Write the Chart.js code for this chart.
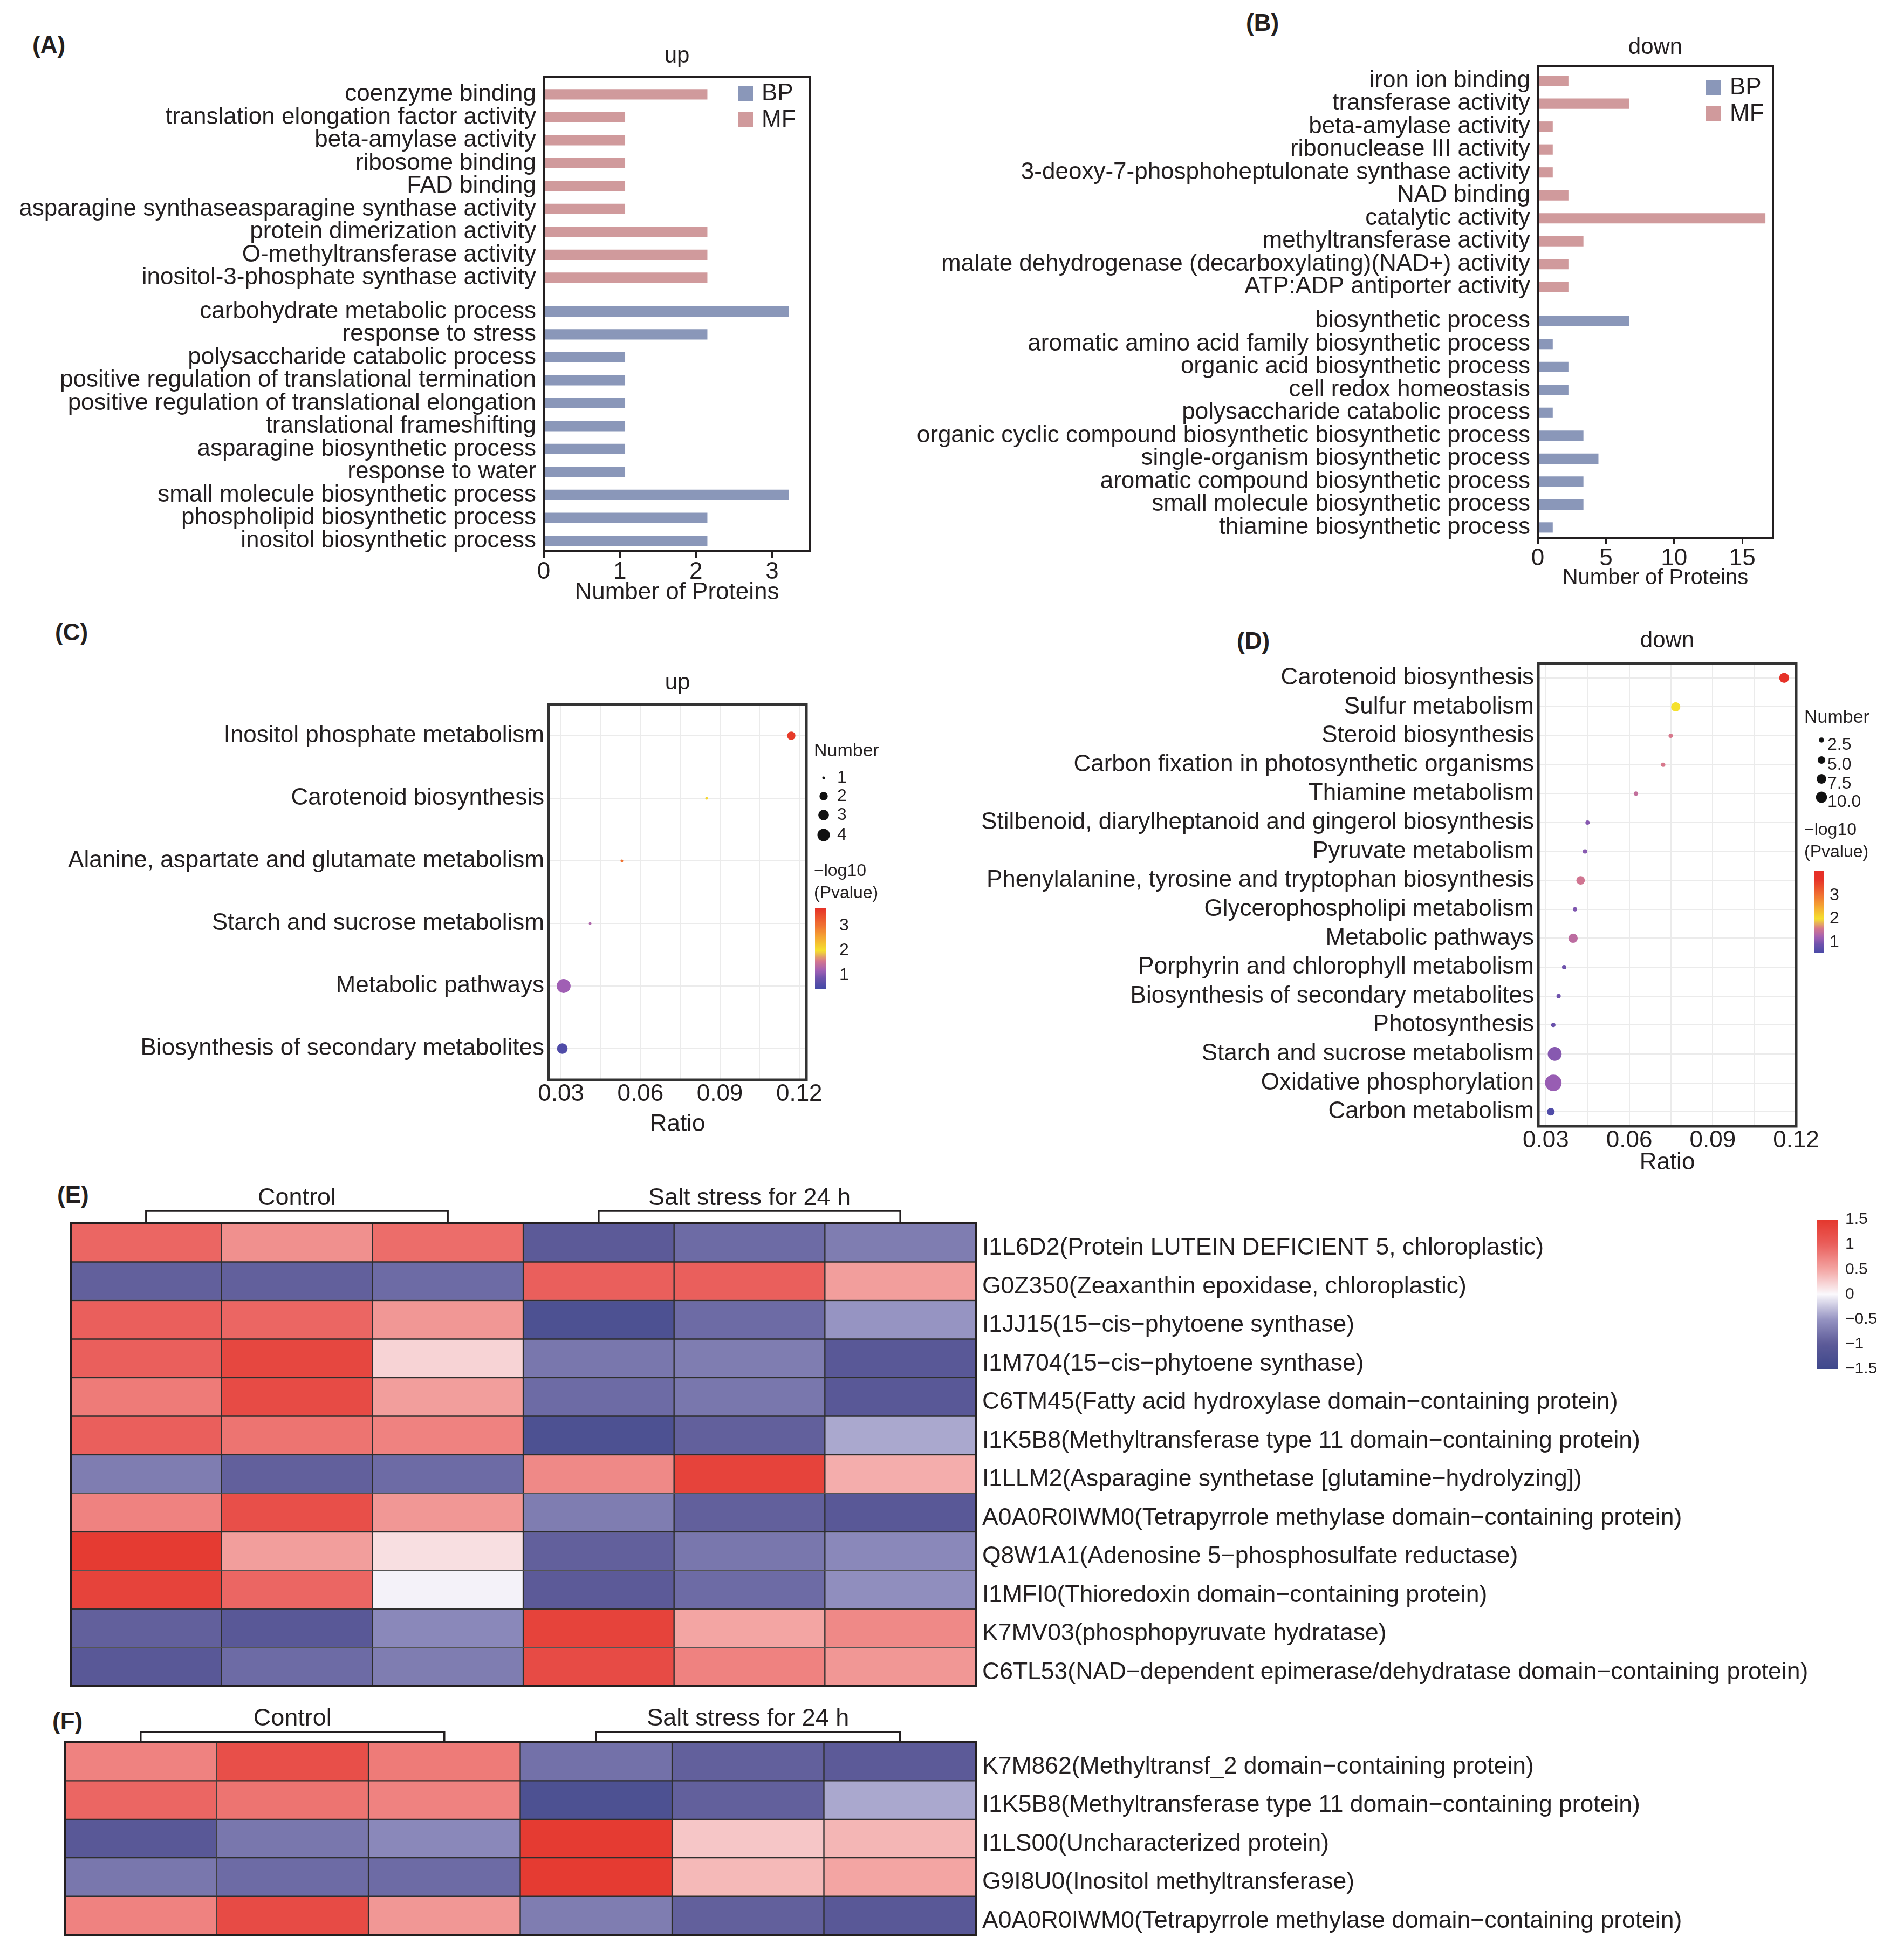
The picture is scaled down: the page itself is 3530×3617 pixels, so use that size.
<!DOCTYPE html>
<html>
<head>
<meta charset="utf-8">
<title>GO / KEGG / heatmap</title>
<script src="https://cdn.jsdelivr.net/npm/chart.js@4.4.1/dist/chart.umd.min.js"></script>
<style>
  body { margin: 0; background: #fff; width: 3530px; height: 3617px; position: relative; overflow: hidden;
         font-family: "Liberation Sans", Arial, Helvetica, sans-serif; color: #231f20; }
  .box { position: absolute; }
  .tag { position: absolute; font-weight: bold; font-size: 44px; line-height: 44px; }
</style>
</head>
<body>
<div class="tag" style="left:60px;top:61px">(A)</div>
<div class="tag" style="left:2310px;top:20px">(B)</div>
<div class="tag" style="left:102px;top:1150px">(C)</div>
<div class="tag" style="left:2293px;top:1166px">(D)</div>
<div class="tag" style="left:106px;top:2193px">(E)</div>
<div class="tag" style="left:97px;top:3169px">(F)</div>

<div class="box" style="left:0;top:0;width:1540px;height:1140px"><canvas id="goUp"></canvas></div>
<div class="box" style="left:1700px;top:0;width:1830px;height:1120px"><canvas id="goDown"></canvas></div>
<div class="box" style="left:0;top:1150px;width:1700px;height:1000px"><canvas id="keggUp"></canvas></div>
<div class="box" style="left:1700px;top:1150px;width:1830px;height:1050px"><canvas id="keggDown"></canvas></div>
<div class="box" style="left:0;top:2180px;width:3530px;height:1000px"><canvas id="heatE"></canvas></div>
<div class="box" style="left:0;top:3150px;width:3530px;height:480px"><canvas id="heatF"></canvas></div>

<script>
// ---- GO terms, up-regulated (A) ----
const mfUpTerms = ['coenzyme binding', 'translation elongation factor activity', 'beta-amylase activity',
  'ribosome binding', 'FAD binding', 'asparagine synthaseasparagine synthase activity',
  'protein dimerization activity', 'O-methyltransferase activity', 'inositol-3-phosphate synthase activity'];
const mfUpCounts = [2.15, 1.07, 1.07, 1.07, 1.07, 1.07, 2.15, 2.15, 2.15];
const bpUpTerms = ['carbohydrate metabolic process', 'response to stress', 'polysaccharide catabolic process',
  'positive regulation of translational termination', 'positive regulation of translational elongation',
  'translational frameshifting', 'asparagine biosynthetic process', 'response to water',
  'small molecule biosynthetic process', 'phospholipid biosynthetic process', 'inositol biosynthetic process'];
const bpUpCounts = [3.22, 2.15, 1.07, 1.07, 1.07, 1.07, 1.07, 1.07, 3.22, 2.15, 2.15];
const upTicks = [0, 1, 2, 3];

// ---- GO terms, down-regulated (B) ----
const mfDownTerms = ['iron ion binding', 'transferase activity', 'beta-amylase activity', 'ribonuclease III activity',
  '3-deoxy-7-phosphoheptulonate synthase activity', 'NAD binding', 'catalytic activity',
  'methyltransferase activity', 'malate dehydrogenase (decarboxylating)(NAD+) activity', 'ATP:ADP antiporter activity'];
const mfDownCounts = [2.25, 6.7, 1.1, 1.1, 1.1, 2.25, 16.7, 3.35, 2.25, 2.25];
const bpDownTerms = ['biosynthetic process', 'aromatic amino acid family biosynthetic process',
  'organic acid biosynthetic process', 'cell redox homeostasis', 'polysaccharide catabolic process',
  'organic cyclic compound biosynthetic biosynthetic process', 'single-organism biosynthetic process',
  'aromatic compound biosynthetic process', 'small molecule biosynthetic process', 'thiamine biosynthetic process'];
const bpDownCounts = [6.7, 1.1, 2.25, 2.25, 1.1, 3.35, 4.45, 3.35, 3.35, 1.1];
const downTicks = [0, 5, 10, 15];

// ---- KEGG, up (C) ----
const keggUpTerms = ['Inositol phosphate metabolism', 'Carotenoid biosynthesis',
  'Alanine, aspartate and glutamate metabolism', 'Starch and sucrose metabolism',
  'Metabolic pathways', 'Biosynthesis of secondary metabolites'];
const keggUpRatio = [0.117, 0.085, 0.053, 0.041, 0.031, 0.0305];
const keggUpNumber = [2, 1, 1, 1, 5, 3];
const keggUpLogP = [3.6, 2.1, 3.0, 1.3, 1.2, 0.6];

// ---- KEGG, down (D) ----
const keggDownTerms = ['Carotenoid biosynthesis', 'Sulfur metabolism', 'Steroid biosynthesis',
  'Carbon fixation in photosynthetic organisms', 'Thiamine metabolism',
  'Stilbenoid, diarylheptanoid and gingerol biosynthesis', 'Pyruvate metabolism',
  'Phenylalanine, tyrosine and tryptophan biosynthesis', 'Glycerophospholipi metabolism', 'Metabolic pathways',
  'Porphyrin and chlorophyll metabolism', 'Biosynthesis of secondary metabolites', 'Photosynthesis',
  'Starch and sucrose metabolism', 'Oxidative phosphorylation', 'Carbon metabolism'];
const keggDownRatio = [0.1157, 0.0767, 0.0749, 0.0722, 0.0624, 0.045, 0.0441, 0.0425, 0.0405, 0.0398,
  0.0366, 0.0346, 0.0327, 0.0332, 0.0327, 0.0318];
const keggDownNumber = [8, 7, 2, 2, 2, 2, 2, 6, 2, 7, 2, 2, 2, 15, 21, 5];
const keggDownLogP = [3.7, 2.0, 1.6, 1.6, 1.45, 1.05, 1.05, 1.55, 1.0, 1.4, 0.9, 0.9, 0.85, 1.05, 1.15, 0.6];

const ratioGrid = [0.03, 0.045, 0.06, 0.075, 0.09, 0.105, 0.12];
const ratioTicks = [0.03, 0.06, 0.09, 0.12];
const upSizeBreaks = [1, 2, 3, 4];
const downSizeBreaks = [2.5, 5, 7.5, 10];
const pBreaks = [3, 2, 1];

// ---- heatmaps (E, F) ----
const samples = ['Control-1', 'Control-2', 'Control-3', 'Salt-1', 'Salt-2', 'Salt-3'];
const sampleGroup = [0, 0, 0, 1, 1, 1];
const groups = ['Control', 'Salt stress for 24 h'];
const heatRowsE = ['I1L6D2(Protein LUTEIN DEFICIENT 5, chloroplastic)', 'G0Z350(Zeaxanthin epoxidase, chloroplastic)',
  'I1JJ15(15\u2212cis\u2212phytoene synthase)', 'I1M704(15\u2212cis\u2212phytoene synthase)',
  'C6TM45(Fatty acid hydroxylase domain\u2212containing protein)',
  'I1K5B8(Methyltransferase type 11 domain\u2212containing protein)',
  'I1LLM2(Asparagine synthetase [glutamine\u2212hydrolyzing])',
  'A0A0R0IWM0(Tetrapyrrole methylase domain\u2212containing protein)',
  'Q8W1A1(Adenosine 5\u2212phosphosulfate reductase)', 'I1MFI0(Thioredoxin domain\u2212containing protein)',
  'K7MV03(phosphopyruvate hydratase)',
  'C6TL53(NAD\u2212dependent epimerase/dehydratase domain\u2212containing protein)'];
const heatZE = [
  [0.95, 0.65, 0.9, -1.0, -0.85, -0.7],
  [-0.95, -0.95, -0.85, 1.0, 1.0, 0.55],
  [1.0, 0.95, 0.6, -1.25, -0.85, -0.5],
  [1.0, 1.3, 0.22, -0.75, -0.7, -1.05],
  [0.8, 1.25, 0.55, -0.85, -0.75, -1.05],
  [1.0, 0.85, 0.75, -1.25, -0.95, -0.4],
  [-0.7, -0.95, -0.85, 0.7, 1.35, 0.45],
  [0.75, 1.2, 0.6, -0.7, -0.95, -1.05],
  [1.45, 0.55, 0.15, -0.95, -0.75, -0.6],
  [1.35, 0.95, -0.03, -1.0, -0.85, -0.55],
  [-0.95, -1.05, -0.6, 1.35, 0.5, 0.7],
  [-1.05, -0.85, -0.7, 1.25, 0.75, 0.6]];
const heatRowsF = ['K7M862(Methyltransf_2 domain\u2212containing protein)',
  'I1K5B8(Methyltransferase type 11 domain\u2212containing protein)', 'I1LS00(Uncharacterized protein)',
  'G9I8U0(Inositol methyltransferase)', 'A0A0R0IWM0(Tetrapyrrole methylase domain\u2212containing protein)'];
const heatZF = [
  [0.75, 1.2, 0.8, -0.8, -0.95, -1.0],
  [0.95, 0.85, 0.75, -1.25, -0.95, -0.4],
  [-1.05, -0.75, -0.6, 1.45, 0.3, 0.4],
  [-0.75, -0.85, -0.85, 1.45, 0.38, 0.5],
  [0.75, 1.25, 0.6, -0.7, -0.95, -1.05]];
const zBreaks = [1.5, 1, 0.5, 0, -0.5, -1, -1.5];
const CELL = 1; // every heatmap cell is one sample wide

// ---- styling ----
const INK = '#231f20';
const FONT = '"Liberation Sans", Arial, Helvetica, sans-serif';
const BP_COLOR = '#8a97b9';
const MF_COLOR = '#d09a9c';
const GRID = '#ebebeb';
const Z_STOPS = [[-1.5, [62, 72, 140]], [-1, [92, 90, 152]], [-0.5, [150, 148, 194]], [0, [250, 248, 252]],
  [0.5, [243, 165, 163]], [1, [234, 95, 92]], [1.5, [228, 55, 45]]];
const P_STOPS = [[0.4, [60, 72, 165]], [0.9, [110, 82, 172]], [1.2, [160, 95, 180]], [1.6, [215, 120, 140]],
  [2.0, [245, 225, 45]], [2.5, [245, 170, 50]], [3.0, [240, 115, 50]], [3.7, [230, 50, 40]], [4.2, [230, 45, 40]]];

Chart.defaults.font.family = FONT;
Chart.defaults.color = INK;
Chart.defaults.animation = false;
Chart.defaults.maintainAspectRatio = false;
Chart.defaults.plugins.legend.display = false;
Chart.defaults.plugins.tooltip.enabled = false;

function ramp(stops, v) {
  if (v <= stops[0][0]) return stops[0][1];
  for (let i = 1; i < stops.length; i++) {
    if (v <= stops[i][0]) {
      const [v0, c0] = stops[i - 1], [v1, c1] = stops[i];
      const t = (v - v0) / (v1 - v0);
      return c0.map((c, k) => Math.round(c + (c1[k] - c) * t));
    }
  }
  return stops[stops.length - 1][1];
}
const rgb = c => 'rgb(' + c.join(',') + ')';
const zColor = v => rgb(ramp(Z_STOPS, v));
const pColor = v => rgb(ramp(P_STOPS, v));
const rUp = n => 2.5 + 9 * Math.sqrt((n - 1) / 3);
const rDown = n => Math.sqrt(11.5 * n - 7);

function txt(ctx, s, x, y, size, align, weight) {
  ctx.save();
  ctx.fillStyle = INK;
  ctx.font = (weight || 'normal') + ' ' + size + 'px ' + FONT;
  ctx.textAlign = align || 'center';
  ctx.textBaseline = 'middle';
  ctx.fillText(s, x, y);
  ctx.restore();
}

function colorBar(ctx, x, top, w, h, vTop, vBot, fn) {
  const g = ctx.createLinearGradient(0, top, 0, top + h);
  for (let i = 0; i <= 40; i++) g.addColorStop(i / 40, fn(vTop - (vTop - vBot) * i / 40));
  ctx.save();
  ctx.fillStyle = g;
  ctx.fillRect(x, top, w, h);
  ctx.restore();
}

const frame = (w, color) => ({
  id: 'frame',
  afterDraw(c) {
    const a = c.chartArea, ctx = c.ctx;
    ctx.save();
    ctx.strokeStyle = color;
    ctx.lineWidth = w;
    ctx.strokeRect(a.left, a.top, a.right - a.left, a.bottom - a.top);
    ctx.restore();
  }
});

// ---- A / B: GO bars ----
// rows are numbered from the top; the BP block starts after a gap of cfg.gapRows rows
function goBar(id, mfTerms, mfVals, bpTerms, bpVals, cfg) {
  const labels = mfTerms.concat(bpTerms);
  const mfRows = mfTerms.map((t, i) => i);
  const bpRows = bpTerms.map((t, j) => mfTerms.length - 1 + cfg.gapRows + j);
  const rows = mfRows.concat(bpRows);
  return new Chart(document.getElementById(id), {
    type: 'bar',
    data: {
      datasets: [
        { label: 'BP', data: bpVals.map((v, j) => ({ x: v, y: bpRows[j] })), backgroundColor: BP_COLOR,
          barPercentage: 0.45, categoryPercentage: 1, grouped: false },
        { label: 'MF', data: mfVals.map((v, i) => ({ x: v, y: mfRows[i] })), backgroundColor: MF_COLOR,
          barPercentage: 0.45, categoryPercentage: 1, grouped: false }
      ]
    },
    options: {
      indexAxis: 'y',
      devicePixelRatio: 1,
      layout: { padding: cfg.padding },
      scales: {
        y: {
          type: 'linear', reverse: true, offset: false,
          min: -cfg.edgeTop, max: rows[rows.length - 1] + cfg.edgeBottom,
          afterBuildTicks: s => { s.ticks = rows.map(v => ({ value: v })); },
          afterFit: s => { s.width = cfg.yWidth; },
          grid: { display: false, offset: false },
          border: { color: INK, width: 4 },
          ticks: { autoSkip: false, font: { size: 44 }, padding: 6, color: INK,
                   callback: (v, i) => labels[i] }
        },
        x: {
          min: 0, max: cfg.max,
          afterBuildTicks: s => { s.ticks = cfg.ticks.map(v => ({ value: v })); },
          afterFit: s => { s.height = cfg.xHeight; },
          grid: { drawOnChartArea: false, color: INK, lineWidth: 3, tickLength: 12 },
          border: { color: INK, width: 4 },
          ticks: { font: { size: 44 }, padding: 0, color: INK, maxRotation: 0 },
          title: { display: true, text: 'Number of Proteins', font: { size: cfg.titleSize }, color: INK,
                   padding: { top: 0, bottom: cfg.titlePad } }
        }
      }
    },
    plugins: [frame(4, INK), {
      id: 'goDecor',
      afterDraw(c) {
        const ctx = c.ctx, a = c.chartArea;
        txt(ctx, cfg.title, (a.left + a.right) / 2, cfg.titleY, 42);
        c.data.datasets.forEach((d, i) => {
          const y = cfg.legend.y + i * 49;
          ctx.fillStyle = d.backgroundColor;
          ctx.fillRect(cfg.legend.x, y, 28, 28);
          txt(ctx, d.label, cfg.legend.x + 44, y + 15, 44, 'left');
        });
      }
    }]
  });
}

goBar('goUp', mfUpTerms, mfUpCounts, bpUpTerms, bpUpCounts, {
  padding: { left: 0, top: 143, right: 38, bottom: 14 }, yWidth: 1008, xHeight: 104,
  gapRows: 1.47, edgeTop: 0.75, edgeBottom: 0.46,
  max: 3.5, ticks: upTicks, titleSize: 44, titlePad: 1, title: 'up', titleY: 104, legend: { x: 1368, y: 159 }
});
goBar('goDown', mfDownTerms, mfDownCounts, bpDownTerms, bpDownCounts, {
  padding: { left: 0, top: 122, right: 243, bottom: 23 }, yWidth: 1151, xHeight: 100,
  gapRows: 1.48, edgeTop: 0.65, edgeBottom: 0.45,
  max: 17.25, ticks: downTicks, titleSize: 40, titlePad: 1, title: 'down', titleY: 88, legend: { x: 1463, y: 148 }
});

// ---- C / D: KEGG dot plots ----
function keggDot(id, terms, ratio, number, logp, cfg) {
  return new Chart(document.getElementById(id), {
    type: 'scatter',
    data: {
      datasets: [{
        data: terms.map((t, i) => ({ x: ratio[i], y: t })),
        pointRadius: number.map(cfg.radius),
        pointHoverRadius: number.map(cfg.radius),
        pointBackgroundColor: logp.map(pColor),
        pointBorderWidth: 0
      }]
    },
    options: {
      devicePixelRatio: 1,
      layout: { padding: cfg.padding },
      scales: {
        y: {
          type: 'category', labels: terms, offset: true,
          afterFit: s => { s.width = cfg.yWidth; },
          grid: { color: GRID, lineWidth: 2, drawTicks: false, offset: false },
          border: { display: false },
          ticks: { autoSkip: false, font: { size: 44 }, padding: 8, color: INK }
        },
        x: {
          type: 'linear', min: cfg.min, max: cfg.max,
          afterBuildTicks: s => { s.ticks = ratioGrid.map(v => ({ value: v })); },
          afterFit: s => { s.height = cfg.xHeight; },
          grid: { color: GRID, lineWidth: 2, drawTicks: false },
          border: { display: false },
          ticks: {
            font: { size: 44 }, padding: 0, color: INK, maxRotation: 0, autoSkip: false,
            callback: v => ratioTicks.some(t => Math.abs(t - v) < 1e-9) ? v.toFixed(2) : ''
          },
          title: { display: true, text: 'Ratio', font: { size: 44 }, color: INK,
                   padding: { top: 0, bottom: cfg.titlePad } }
        }
      }
    },
    plugins: [frame(5, '#333333'), {
      id: 'keggDecor',
      afterDraw(c) {
        const ctx = c.ctx, a = c.chartArea, L = cfg.legend;
        txt(ctx, cfg.title, (a.left + a.right) / 2, cfg.titleY, 42);
        txt(ctx, 'Number', L.x, L.numberY, 34, 'left');
        cfg.sizeBreaks.forEach((n, i) => {
          const y = L.dotY[i];
          ctx.fillStyle = '#111';
          ctx.beginPath();
          ctx.arc(L.dotX, y, cfg.radius(n), 0, Math.PI * 2);
          ctx.fill();
          txt(ctx, cfg.sizeLabels[i], L.labelX, y + L.labelDy, 32, 'left');
        });
        txt(ctx, '\u2212log10', L.x, L.pTitleY, 32, 'left');
        txt(ctx, '(Pvalue)', L.x, L.pTitleY + 41, 32, 'left');
        const B = L.bar;
        colorBar(ctx, B.x, B.top, B.w, B.h, B.vTop, B.vBot, pColor);
        pBreaks.forEach(v => {
          txt(ctx, String(v), L.barLabelX, B.top + (B.vTop - v) / (B.vTop - B.vBot) * B.h, 32, 'left');
        });
      }
    }]
  });
}

keggDot('keggUp', keggUpTerms, keggUpRatio, keggUpNumber, keggUpLogP, {
  padding: { left: 0, top: 156, right: 205, bottom: 38 }, yWidth: 1017, xHeight: 110, titlePad: 1,
  min: 0.0253, max: 0.1227, radius: rUp, title: 'up', titleY: 116,
  sizeBreaks: upSizeBreaks, sizeLabels: ['1', '2', '3', '4'],
  legend: {
    x: 1509, numberY: 243, dotX: 1527, dotY: [292, 326, 361, 398], labelX: 1552, labelDy: 0,
    pTitleY: 465, barLabelX: 1556,
    bar: { x: 1511, top: 534, w: 21, h: 150, vTop: 3.7, vBot: 0.45 }
  }
});
keggDot('keggDown', keggDownTerms, keggDownRatio, keggDownNumber, keggDownLogP, {
  padding: { left: 0, top: 80, right: 200, bottom: 12 }, yWidth: 1152, xHeight: 100, titlePad: 6,
  min: 0.0273, max: 0.12, radius: rDown, title: 'down', titleY: 38,
  sizeBreaks: downSizeBreaks, sizeLabels: ['2.5', '5.0', '7.5', '10.0'],
  legend: {
    x: 1645, numberY: 181, dotX: 1677, dotY: [222, 259, 294, 328], labelX: 1688, labelDy: 9,
    pTitleY: 389, barLabelX: 1692,
    bar: { x: 1664, top: 465, w: 18, h: 152, vTop: 4.05, vBot: 0.53 }
  }
});

// ---- E / F: heatmaps ----
function heatmap(id, rows, z, cfg) {
  const datasets = samples.map((name, j) => ({
    label: name,
    data: rows.map(() => CELL),
    backgroundColor: z.map(r => zColor(r[j])),
    borderColor: '#2e2e2e', borderWidth: 1.5, borderSkipped: false,
    barPercentage: 1, categoryPercentage: 1
  }));
  return new Chart(document.getElementById(id), {
    type: 'bar',
    data: { labels: rows, datasets: datasets },
    options: {
      indexAxis: 'y',
      devicePixelRatio: 1,
      layout: { padding: cfg.padding },
      scales: {
        x: { stacked: true, min: 0, max: samples.length * CELL, display: false },
        y: {
          stacked: true, position: 'right',
          afterFit: s => { s.width = cfg.yWidth; },
          grid: { display: false }, border: { display: false },
          ticks: { autoSkip: false, font: { size: 44.5 }, padding: 4, labelOffset: 10, color: INK }
        }
      }
    },
    plugins: [frame(4, INK), {
      id: 'heatDecor',
      afterDraw(c) {
        const ctx = c.ctx, x = c.scales.x, top = c.chartArea.top;
        groups.forEach((g, k) => {
          const idx = sampleGroup.map((v, i) => v === k ? i : -1).filter(i => i >= 0);
          const a = x.getPixelForValue((idx[0] + 0.5) * CELL);
          const b = x.getPixelForValue((idx[idx.length - 1] + 0.5) * CELL);
          ctx.save();
          ctx.strokeStyle = INK;
          ctx.lineWidth = 3.5;
          ctx.beginPath();
          ctx.moveTo(a, top - 2);
          ctx.lineTo(a, cfg.bracketTop);
          ctx.lineTo(b, cfg.bracketTop);
          ctx.lineTo(b, top - 2);
          ctx.stroke();
          ctx.restore();
          txt(ctx, g, (a + b) / 2, cfg.headerY, 45);
        });
        if (cfg.scaleBar) {
          const B = cfg.scaleBar;
          colorBar(ctx, B.x, B.top, B.w, B.h, 1.5, -1.5, zColor);
          zBreaks.forEach(v => {
            const s = v < 0 ? '\u2212' + String(-v) : String(v);
            txt(ctx, s, B.x + B.w + 13, B.top + (1.5 - v) / 3 * B.h, 30, 'left');
          });
        }
      }
    }]
  });
}

heatmap('heatE', heatRowsE, heatZE, {
  padding: { left: 131, top: 88, right: 0, bottom: 54 }, yWidth: 1721,
  bracketTop: 65, headerY: 42,
  scaleBar: { x: 3368, top: 81, w: 40, h: 277 }
});
heatmap('heatF', heatRowsF, heatZF, {
  padding: { left: 120, top: 80, right: 0, bottom: 43 }, yWidth: 1721,
  bracketTop: 61, headerY: 37
});
</script>
</body>
</html>
